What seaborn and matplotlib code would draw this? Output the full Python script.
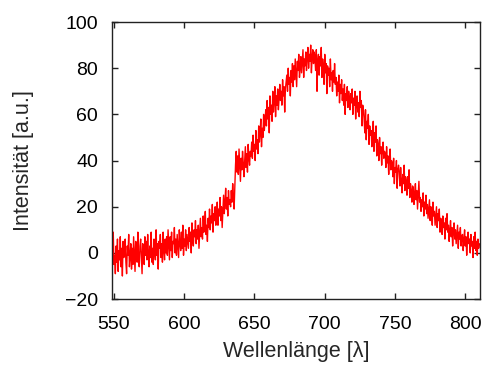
import numpy as np
import matplotlib
matplotlib.use("Agg")
import matplotlib.pyplot as plt
import seaborn as sns

# Wavelength grid (nm, 0.5 nm steps) and intensity values
wavelength = np.arange(548, 810.25, 0.5)
intensity = [
    4, -7, 2, 9, -5, -1, -9, 3, -4, 6,
    -8, 1, -3, 7, -6, 2, -10, 5, -2, 0,
    6, -4, -9, 3, -1, 8, -6, -2, 4, -7,
    2, -5, 7, -1, -8, 5, 0, -4, 9, -3,
    -6, 3, 6, -2, -9, 4, 1, -5, 7, -1,
    5, -3, 8, 0, -6, 3, -2, 9, -4, 2,
    -5, 6, 1, -3, 10, -1, 4, -7, 5, 2,
    8, -2, 4, -4, 9, 1, -3, 6, 0, 7,
    -1, 10, 3, -3, 7, 1, 9, -2, 5, 4,
    11, 0, 6, -1, 8, 3, -2, 10, 4, 1,
    9, 2, 12, -1, 6, 3, 10, 1, 8, 5,
    2, 11, 5, 9, 0, 13, 6, 3, 10, 7,
    14, 4, 10, 6, 12, 2, 9, 15, 7, 11,
    6, 16, 9, 13, 18, 8, 12, 5, 15, 11,
    19, 10, 16, 13, 21, 9, 17, 14, 20, 12,
    15, 22, 12, 19, 16, 24, 14, 20, 11, 18,
    25, 17, 22, 28, 19, 24, 16, 27, 21, 23,
    20, 27, 22, 30, 24, 19, 28, 38, 44, 35,
    42, 34, 45, 38, 31, 41, 36, 44, 39, 33,
    40, 46, 37, 43, 35, 47, 41, 38, 44, 42,
    48, 41, 51, 44, 47, 40, 53, 45, 49, 43,
    55, 48, 52, 58, 46, 54, 50, 60, 53, 57,
    62, 55, 66, 58, 63, 52, 68, 60, 64, 57,
    70, 61, 66, 72, 59, 68, 64, 71, 62, 67,
    73, 66, 70, 64, 75, 68, 72, 61, 71, 74,
    77, 70, 80, 73, 76, 68, 79, 74, 82, 72,
    81, 75, 84, 78, 72, 83, 79, 86, 76, 80,
    85, 78, 83, 88, 76, 84, 81, 87, 79, 85,
    89, 80, 86, 83, 90, 78, 85, 88, 82, 87,
    84, 79, 88, 70, 83, 86, 77, 85, 81, 89,
    76, 84, 80, 73, 86, 78, 82, 69, 81, 77,
    80, 72, 84, 75, 78, 70, 79, 74, 82, 73,
    76, 68, 74, 70, 77, 65, 73, 69, 75, 66,
    71, 64, 73, 60, 69, 66, 72, 63, 70, 67,
    62, 69, 65, 71, 60, 67, 64, 70, 58, 66,
    68, 61, 65, 59, 70, 63, 66, 55, 64, 62,
    58, 52, 62, 49, 57, 54, 60, 47, 55, 51,
    53, 46, 50, 57, 44, 52, 48, 55, 42, 49,
    47, 40, 50, 43, 46, 38, 45, 48, 41, 44,
    43, 37, 46, 39, 42, 34, 41, 45, 36, 40,
    39, 33, 41, 30, 37, 35, 40, 28, 36, 38,
    35, 29, 37, 31, 26, 34, 30, 38, 27, 33,
    31, 25, 33, 28, 36, 24, 30, 27, 22, 29,
    28, 21, 26, 30, 23, 27, 19, 25, 31, 22,
    24, 18, 23, 20, 26, 16, 22, 19, 25, 17,
    21, 15, 19, 23, 14, 20, 17, 12, 22, 16,
    18, 12, 16, 20, 11, 17, 14, 19, 9, 15,
    14, 8, 16, 11, 13, 6, 15, 10, 17, 9,
    12, 5, 10, 14, 7, 11, 3, 9, 13, 6,
    10, 4, 8, 12, 2, 9, 6, 11, 3, 7,
    8, 1, 6, 10, 3, 7, -1, 5, 9, 4,
    6, 0, 8, 3, 5, -2, 7, 2, 9, 1,
    5, -1, 6, 2, 4,
]
x_ticks = [550, 600, 650, 700, 750, 800]
y_ticks = [-20, 0, 20, 40, 60, 80, 100]
x_label = "Wellenlänge [λ]"
y_label = "Intensität [a.u.]"

sns.set_theme(style="ticks")
plt.rcParams["font.family"] = ["Liberation Sans", "DejaVu Sans"]

fig = plt.figure(figsize=(4.89, 3.67), dpi=100)
ax = fig.add_axes([0.229, 0.185, 0.753, 0.755])

sns.lineplot(x=wavelength, y=intensity, color="#ff0000", linewidth=1.0, ax=ax)

ax.set_xlim(548.6, 810.6)
ax.set_ylim(-20, 100)
ax.set_xticks(x_ticks)
ax.set_yticks(y_ticks)
ax.set_yticklabels(["\u221220" if v < 0 else str(v) for v in y_ticks])
ax.tick_params(direction="in", length=4, width=1, colors="#222222",
               labelsize=14, labelcolor="black", top=True, right=True)
ax.tick_params(axis="y", pad=10)
ax.tick_params(axis="x", pad=12)
for s in ax.spines.values():
    s.set_visible(True)
    s.set_linewidth(1.0)
    s.set_color("#222222")
ax.set_xlabel(x_label, fontsize=15.5, labelpad=6)
ax.set_ylabel(y_label, fontsize=15.5, labelpad=22)
ax.grid(False)

fig.savefig("out.png", dpi=100)
